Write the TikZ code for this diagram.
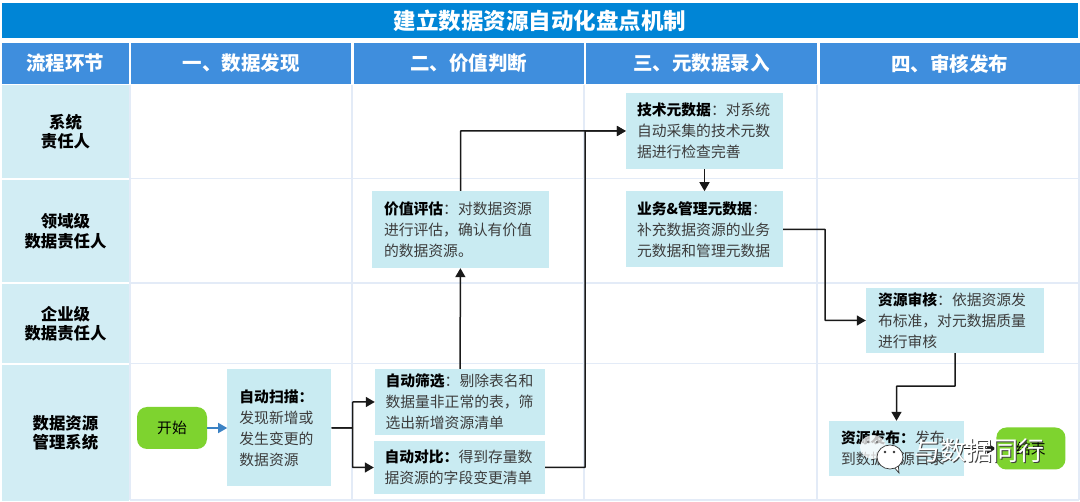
\documentclass[tikz,border=0pt]{standalone}
\usepackage{fontspec}
\setmainfont{Noto Sans CJK SC}
\usepackage{tikz}
\usetikzlibrary{arrows.meta,positioning}
\definecolor{titlebg}{HTML}{0085D6}
\definecolor{headbg}{HTML}{3F8EDD}
\definecolor{lanebg}{HTML}{D2EDF4}
\definecolor{boxbg}{HTML}{C9EBF2}
\definecolor{gridc}{HTML}{E3EBF7}
\definecolor{startc}{HTML}{7ED32F}
\definecolor{bodyc}{HTML}{3C3C3C}
\definecolor{arrowc}{HTML}{3B82C4}
\newcommand{\kw}[1]{\textbf{\textcolor{black}{#1}}}

\begin{document}
\begin{tikzpicture}[x=1pt, y=-1pt, >=Stealth,
	   head/.style={fill=headbg, text=white, inner sep=0pt, font=\fontsize{19.5}{23}\selectfont\bfseries, minimum height=41pt},
	   lane/.style={fill=lanebg, text=black, inner sep=0pt, minimum width=127pt, align=center, font=\fontsize{16.4}{19.5}\selectfont\bfseries},
	   b/.style={fill=boxbg, text=bodyc, inner sep=0pt, align=left, font=\fontsize{14.8}{21}\selectfont},
	   t/.style={fill=startc, rounded corners=10pt, inner sep=0pt, minimum width=70pt, minimum height=42pt, font=\fontsize{14.8}{18}\selectfont},
	   c/.style={black!90, line width=1.5pt, rounded corners=0.5pt, arrows={-Stealth[inset=0pt,length=9pt,width=10pt]}},
	   w/.style={inner sep=0pt, font=\fontsize{26}{30}\selectfont}]
	  \useasboundingbox (0,0) rectangle (1080,502);
	  % grid
	  \fill[white] (0,0) rectangle (1080,502);
	  \foreach \gx in {130,352,584,817,1079} \draw[gridc, line width=1.8pt] (\gx,85) -- (\gx,500);
	  \foreach \gy in {178.5,283,363.5,500} \draw[gridc, line width=1.8pt] (130,\gy) -- (1079,\gy);
	  % title and header row
	  \node[fill=titlebg, text=white, inner sep=0pt, minimum width=1076pt, minimum height=35pt, font=\fontsize{22.5}{26}\selectfont\bfseries] (title) at (540,21) {建立数据资源自动化盘点机制};
	  \node[head, minimum width=127pt] (h0) at (65.5,63.5) {流程环节};
	  \node[head, minimum width=220pt, right=2pt of h0] (h1) {一、数据发现};
	  \node[head, minimum width=230pt, right=2pt of h1] (h2) {二、价值判断};
	  \node[head, minimum width=231pt, right=2pt of h2] (h3) {三、元数据录入};
	  \node[head, minimum width=260pt, right=2pt of h3] (h4) {四、审核发布};
	  % lanes
	  \node[lane, minimum height=93pt] (l1) at (65.5,131.5) {系统\\责任人};
	  \node[lane, minimum height=102.5pt, below=1.5pt of l1] (l2) {领域级\\数据责任人};
	  \node[lane, minimum height=79pt, below=1.5pt of l2] (l3) {企业级\\数据责任人};
	  \node[lane, minimum height=135.5pt, below=1.5pt of l3] (l4) {数据资源\\管理系统};
	  % steps
	  \node[t] (start) at (172,428) {开始};
	  \node[b, minimum width=104pt, minimum height=117pt, text width=80pt, right=20pt of start] (scan) {\kw{自动扫描：}\\发现新增或\\发生变更的\\数据资源};
	  \node[b, minimum width=170pt, minimum height=66pt, text width=149pt] (filter) at (460,402) {\kw{自动筛选}：剔除表名和\\数据量非正常的表，筛\\选出新增资源清单};
	  \node[b, minimum width=171pt, minimum height=53pt, text width=150pt] (compare) at (459.5,467.5) {\kw{自动对比：}得到存量数\\据资源的字段变更清单};
	  \node[b, minimum width=177pt, minimum height=77pt, text width=153pt] (value) at (460.5,229.5) {\kw{价值评估}：对数据资源\\进行评估，确认有价值\\的数据资源。};
	  \node[b, minimum width=157pt, minimum height=76pt, text width=135pt] (tech) at (704.5,131) {\kw{技术元数据}：对系统\\自动采集的技术元数\\据进行检查完善};
	  \node[b, minimum width=157pt, minimum height=76pt, text width=135pt, below=22pt of tech] (biz) {\kw{业务\&管理元数据}：\\补充数据资源的业务\\元数据和管理元数据};
	  \node[b, minimum width=178pt, minimum height=65pt, text width=154pt] (review) at (955,320.5) {\kw{资源审核}：依据资源发\\布标准，对元数据质量\\进行审核};
	  \node[b, minimum width=135pt, minimum height=55pt, text width=111pt] (publish) at (896.5,448.5) {\kw{资源发布：}发布\\到数据资源目录};
	  \node[t, minimum width=69pt, right=32pt of publish] (end) {结束};
	  % connectors
	  \draw[c, arrowc] (start) -- (scan);
	  \draw[c] (scan.east) -- ++(21,0) |- (filter.west);
	  \draw[c] (scan.east) -- ++(21,0) |- (compare.west);
	  \draw[c] (filter) -- (value);
	  \draw[c] (value.north) |- (tech.west);
	  \coordinate (bus) at (585,131);
	  \draw[c] (compare.east) -| (bus) -- (tech.west);
	  \draw[c] (tech) -- (biz);
	  \draw[c] (biz.east) -- ++(42,0) |- (review.west);
	  \draw[c] (review.south) -- ++(0,33) -| (publish.north);
	  \draw[c] (publish) -- (end);
	  % watermark
	  \fill[white, opacity=.75] (873,447) ellipse (13pt and 12pt);
	  \fill[black!60] (868,442) circle (1.2pt) (877,442) circle (1.2pt);
	  \draw[black!80, fill=white, line width=.7pt] (893,466) -- (899,473) -- (898,462);
	  \draw[black!80, fill=white, line width=.7pt] (890,457) ellipse (13pt and 12pt);
	  \fill[black!80] (885,452) circle (1.3pt) (894,452) circle (1.3pt);
	  \node[w, text=black!75] (wm0) at (980,451.5) {与数据同行};
	  \node[w, text=white] (wm) at (979,450.5) {与数据同行};
	\end{tikzpicture}
\end{document}
